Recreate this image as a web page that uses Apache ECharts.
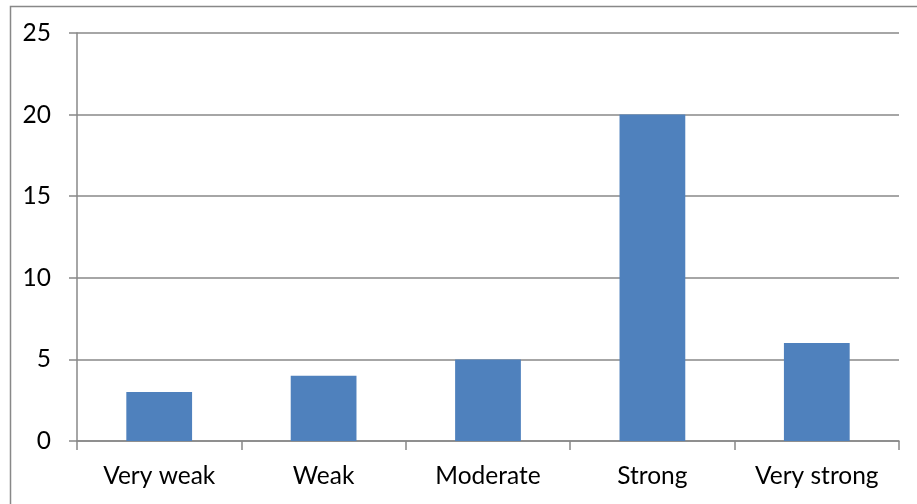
<!DOCTYPE html>
<html>
<head>
<meta charset="utf-8">
<script src="https://cdn.jsdelivr.net/npm/echarts@6/dist/echarts.min.js"></script>
<style>
  html, body { margin: 0; padding: 0; background: #fff; }
  #chart { width: 917px; height: 504px; }
</style>
</head>
<body>
<div id="chart"></div>
<script>
// Response strength counts
const categories = ['Very weak', 'Weak', 'Moderate', 'Strong', 'Very strong'];
const counts = [3, 4, 5, 20, 6];
const yTicks = { min: 0, max: 25, interval: 5 };

const lineColor = '#888888';
const font = 'Lato, "Open Sans", sans-serif';

const chart = echarts.init(document.getElementById('chart'), null, { renderer: 'canvas' });
chart.setOption({
  animation: false,
  backgroundColor: '#ffffff',
  graphic: [{
    type: 'rect',
    left: 8, top: 4,
    shape: { x: 0, y: 0, width: 1200, height: 800 },
    style: { fill: 'none', stroke: lineColor, lineWidth: 1.5 },
    silent: true,
    z: -1
  }],
  grid: { left: 77, right: 18, top: 33, bottom: 63, containLabel: false },
  xAxis: {
    type: 'category',
    data: categories,
    boundaryGap: true,
    axisLine: { show: true, lineStyle: { color: lineColor, width: 1.5 } },
    axisTick: { show: true, length: 9, lineStyle: { color: lineColor, width: 1.5 } },
    axisLabel: { color: '#000', fontFamily: font, fontSize: 24.5, margin: 23, interval: 0 },
    splitLine: { show: false }
  },
  yAxis: {
    type: 'value',
    min: yTicks.min, max: yTicks.max, interval: yTicks.interval,
    axisLine: { show: true, lineStyle: { color: lineColor, width: 1.5 } },
    axisTick: { show: true, length: 8, lineStyle: { color: lineColor, width: 1.5 } },
    axisLabel: { color: '#000', fontFamily: font, fontSize: 24.5, margin: 26 },
    splitLine: { show: true, lineStyle: { color: lineColor, width: 1.5 } }
  },
  series: [{
    type: 'bar',
    data: counts,
    barCategoryGap: '60%',
    itemStyle: { color: '#4F81BD' }
  }]
});
</script>
</body>
</html>
